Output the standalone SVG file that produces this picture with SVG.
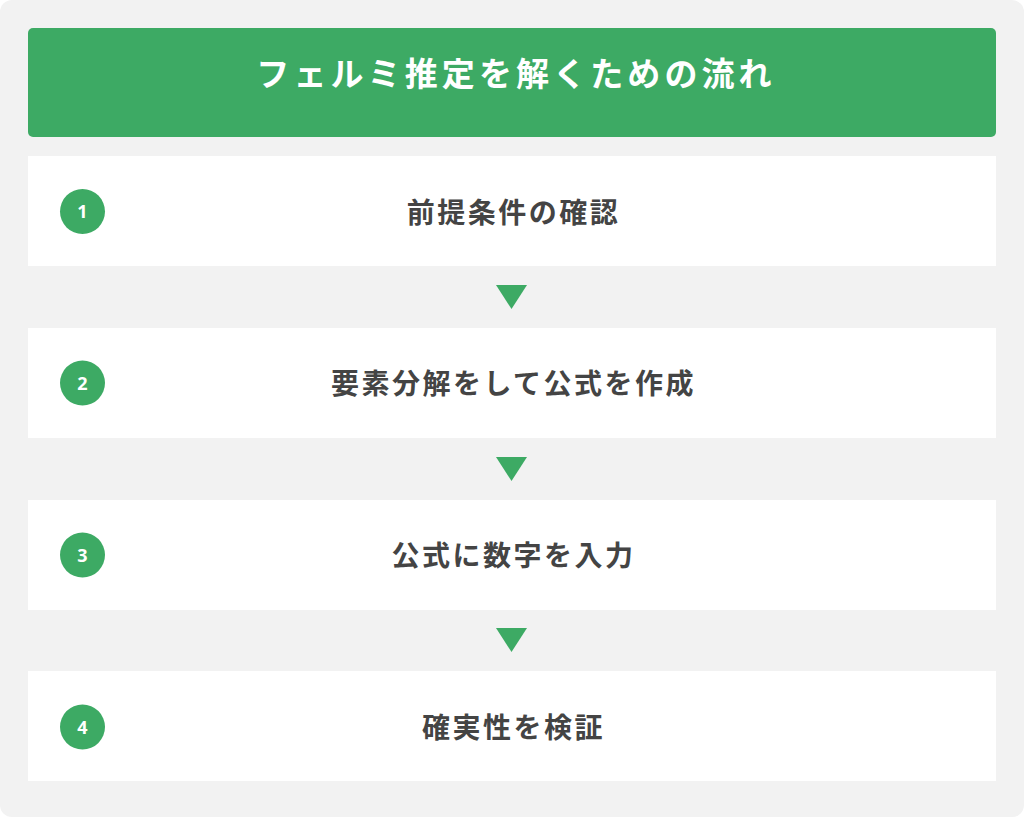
<svg xmlns="http://www.w3.org/2000/svg" width="1024" height="817" viewBox="0 0 1024 817">
<defs>
<style>
.bg{fill:#f2f2f2}
.box{fill:#ffffff}
.green{fill:#3daa64}
.title{font-family:"Noto Sans CJK JP","Noto Sans",sans-serif;font-weight:700;font-size:33px;fill:#ffffff;letter-spacing:4.1px;text-anchor:middle}
.step{font-family:"Noto Sans CJK JP","Noto Sans",sans-serif;font-weight:700;font-size:28px;fill:#444444;letter-spacing:2.5px;text-anchor:middle}
.num{font-family:"Noto Sans","Liberation Sans",sans-serif;font-weight:700;font-size:18px;fill:#ffffff;text-anchor:middle}
</style>
</defs>
<rect x="0" y="0" width="1024" height="817" fill="#ffffff"/>
<rect class="bg" x="0" y="0" width="1024" height="817" rx="12"/>
<g id="header">
<rect class="green" x="28" y="28" width="968" height="109" rx="5"/>
<text class="title" x="516" y="86">フェルミ推定を解くための流れ</text>
</g>
<g id="step1">
<rect class="box" x="28" y="156" width="968" height="110"/>
<circle class="green" cx="82.5" cy="211.5" r="22.5"/>
<text class="num" x="82.5" y="218">1</text>
<text class="step" x="513.5" y="222.5">前提条件の確認</text>
</g>
<g id="step2">
<rect class="box" x="28" y="328" width="968" height="110"/>
<circle class="green" cx="82.5" cy="383" r="22.5"/>
<text class="num" x="82.5" y="389.5">2</text>
<text class="step" x="513.5" y="393.5">要素分解をして公式を作成</text>
</g>
<g id="step3">
<rect class="box" x="28" y="500" width="968" height="110"/>
<circle class="green" cx="82.5" cy="555" r="22.5"/>
<text class="num" x="82.5" y="561.5">3</text>
<text class="step" x="513.5" y="565.5">公式に数字を入力</text>
</g>
<g id="step4">
<rect class="box" x="28" y="671" width="968" height="110"/>
<circle class="green" cx="82.5" cy="727" r="22.5"/>
<text class="num" x="82.5" y="733.5">4</text>
<text class="step" x="513.5" y="737.5">確実性を検証</text>
</g>
<g id="connectors">
<polygon class="green" points="496,285 527,285 511.5,309"/>
<polygon class="green" points="496,457 527,457 511.5,481"/>
<polygon class="green" points="496,628 527,628 511.5,652"/>
</g>
</svg>
